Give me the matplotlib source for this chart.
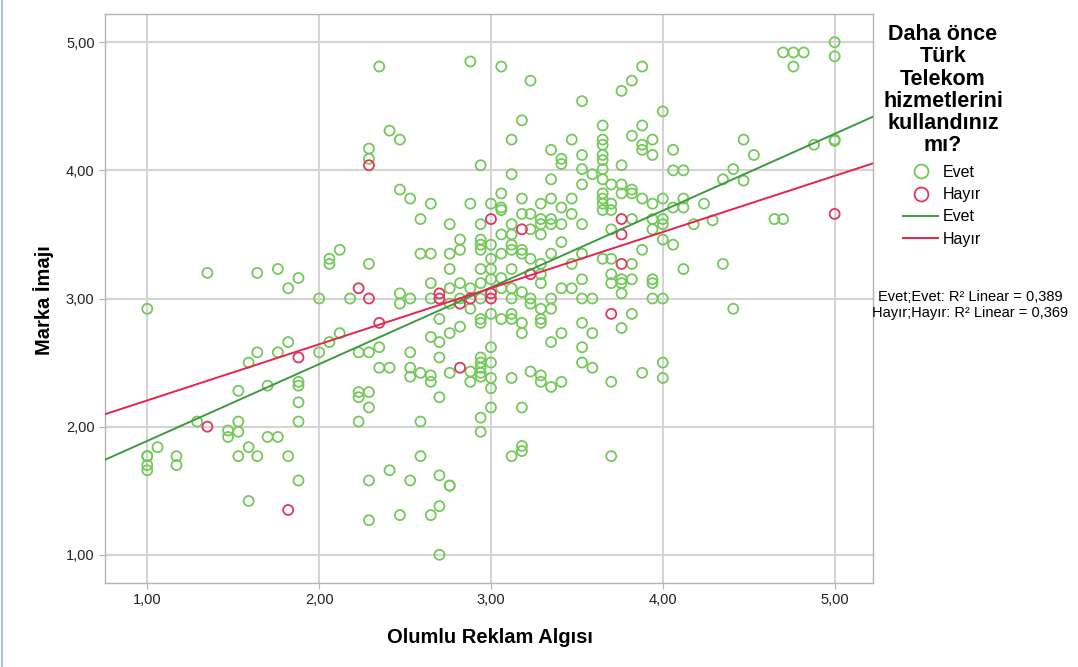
import matplotlib.pyplot as plt
import numpy as np
from matplotlib.ticker import FuncFormatter
from matplotlib.lines import Line2D

plt.rcParams['font.family'] = ['Liberation Sans', 'DejaVu Sans']

# Olumlu Reklam Algısı değerleri (x) ve her değerdeki Marka İmajı puanları (y)
evet_levels = [1.00, 1.06, 1.17, 1.29, 1.35, 1.47, 1.53, 1.59, 1.64, 1.70,
               1.76, 1.82, 1.88, 2.00, 2.06, 2.12, 2.18, 2.23, 2.29, 2.35,
               2.41, 2.47, 2.53, 2.59, 2.65, 2.70, 2.76, 2.82, 2.88, 2.94,
               3.00, 3.06, 3.12, 3.18, 3.23, 3.29, 3.35, 3.41, 3.47, 3.53,
               3.59, 3.65, 3.70, 3.76, 3.82, 3.88, 3.94, 4.00, 4.06, 4.12,
               4.18, 4.24, 4.29, 4.35, 4.41, 4.47, 4.53, 4.65, 4.70, 4.76,
               4.82, 4.88, 5.00]
evet_values = [
    [2.92, 1.77, 1.77, 1.70, 1.66],
    [1.84],
    [1.77, 1.70],
    [2.04],
    [3.20],
    [1.97, 1.92],
    [2.28, 2.04, 1.96, 1.77],
    [2.50, 1.84, 1.42],
    [3.20, 2.58, 1.77],
    [2.32, 1.92],
    [3.23, 2.58, 1.92],
    [3.08, 2.66, 1.77],
    [3.16, 2.35, 2.32, 2.19, 2.04, 1.58],
    [3.00, 2.58],
    [3.31, 3.27, 2.66],
    [3.38, 2.73],
    [3.00],
    [2.58, 2.27, 2.23, 2.04],
    [4.17, 4.09, 3.27, 2.58, 2.27, 2.15, 1.58, 1.27],
    [4.81, 2.62, 2.46],
    [4.31, 2.46, 1.66],
    [4.24, 3.85, 3.04, 2.96, 1.31],
    [3.78, 3.00, 2.58, 2.46, 2.39, 1.58],
    [3.62, 3.35, 2.42, 2.04, 1.77],
    [3.74, 3.35, 3.12, 3.00, 2.70, 2.40, 2.35, 1.31],
    [2.84, 2.66, 2.54, 2.23, 1.62, 1.38, 1.00],
    [3.58, 3.35, 3.23, 3.08, 2.96, 2.73, 2.42, 1.54, 1.54],
    [3.46, 3.38, 3.12, 3.00, 2.78],
    [4.85, 3.74, 3.08, 2.92, 2.43, 2.35],
    [4.04, 3.58, 3.46, 3.42, 3.38, 3.23, 3.12, 3.00, 2.84, 2.81, 2.54, 2.50,
     2.46, 2.42, 2.39, 2.07, 1.96],
    [3.74, 3.42, 3.31, 3.23, 3.15, 2.88, 2.62, 2.50, 2.38, 2.30, 2.15],
    [4.81, 3.82, 3.71, 3.69, 3.50, 3.35, 3.16, 3.08, 2.84],
    [4.24, 3.97, 3.58, 3.50, 3.42, 3.38, 3.23, 3.08, 3.00, 2.88, 2.84, 2.38, 1.77],
    [4.39, 3.78, 3.66, 3.38, 3.35, 3.05, 2.81, 2.73, 2.15, 1.85, 1.81],
    [4.70, 3.66, 3.54, 3.31, 3.00, 2.96, 2.43],
    [3.74, 3.62, 3.58, 3.50, 3.27, 3.19, 3.12, 2.92, 2.84, 2.81, 2.40, 2.35],
    [4.16, 3.93, 3.78, 3.62, 3.58, 3.35, 3.00, 2.92, 2.66, 2.31],
    [4.09, 4.05, 3.71, 3.58, 3.44, 3.08, 2.73, 2.35],
    [4.24, 3.78, 3.66, 3.27, 3.08],
    [4.54, 4.12, 4.01, 3.89, 3.58, 3.35, 3.15, 3.00, 2.81, 2.62, 2.50],
    [3.97, 3.00, 2.73, 2.46],
    [4.35, 4.24, 4.20, 4.12, 4.08, 4.01, 3.93, 3.82, 3.78, 3.74, 3.69, 3.31],
    [3.89, 3.74, 3.69, 3.54, 3.31, 3.19, 3.12, 2.35, 1.77],
    [4.62, 4.04, 3.89, 3.82, 3.15, 3.12, 3.04, 2.77],
    [4.70, 4.27, 3.85, 3.82, 3.62, 3.27, 3.15, 2.88],
    [4.81, 4.35, 4.20, 4.16, 3.78, 3.38, 2.42],
    [4.24, 4.12, 3.74, 3.62, 3.54, 3.15, 3.12, 3.00],
    [4.46, 3.78, 3.62, 3.58, 3.46, 3.00, 2.50, 2.38],
    [4.16, 4.00, 3.71, 3.42],
    [4.00, 3.78, 3.71, 3.23],
    [3.58],
    [3.74],
    [3.61],
    [3.93, 3.27],
    [4.01, 2.92],
    [4.24, 3.92],
    [4.12],
    [3.62],
    [4.92, 3.62],
    [4.92, 4.81],
    [4.92],
    [4.20],
    [5.00, 4.89, 4.24, 4.23],
]

hayir_levels = [1.35, 1.82, 1.88, 2.23, 2.29, 2.35, 2.70, 2.82, 2.88, 3.00,
                3.18, 3.23, 3.70, 3.76, 5.00]
hayir_values = [
    [2.00],
    [1.35],
    [2.54],
    [3.08],
    [4.04, 3.00],
    [2.81],
    [3.04, 3.00],
    [2.96, 2.46],
    [3.00],
    [3.62, 3.04, 3.00],
    [3.54],
    [3.19],
    [2.88],
    [3.62, 3.50, 3.27],
    [3.66],
]

# doğrusal uyum çizgileri (sabit, eğim) ve R2
evet_fit = (1.29, 0.599)
hayir_fit = (1.767, 0.438)
r2_evet = 0.389
r2_hayir = 0.369

ticks = [1.00, 2.00, 3.00, 4.00, 5.00]

evet_x = np.repeat(evet_levels, [len(v) for v in evet_values])
evet_y = np.concatenate(evet_values)
hayir_x = np.repeat(hayir_levels, [len(v) for v in hayir_values])
hayir_y = np.concatenate(hayir_values)

green = '#74c95a'
red = '#e2365e'
green_line = '#3f9a3f'
red_line = '#e8234d'

fig = plt.figure(figsize=(10.78, 6.67), dpi=100)
fig.patch.set_facecolor('white')
ax = fig.add_axes([0.0974, 0.1259, 0.7124, 0.8531])

ax.set_xlim(0.754, 5.223)
ax.set_ylim(0.78, 5.22)
ax.set_xticks(ticks)
ax.set_yticks(ticks)
fmt = FuncFormatter(lambda v, p: f"{v:.2f}".replace('.', ','))
ax.xaxis.set_major_formatter(fmt)
ax.yaxis.set_major_formatter(fmt)

ax.grid(True, color='#d4d4d4', linewidth=1.5)
ax.set_axisbelow(True)
for s in ax.spines.values():
    s.set_color('#b4b4b4')
    s.set_linewidth(1.0)
ax.tick_params(colors='#b4b4b4', labelcolor='#222222', labelsize=10.5, length=4)

ax.scatter(evet_x, evet_y, s=52, facecolors='none', edgecolors=green, linewidths=1.3, zorder=2)
ax.scatter(hayir_x, hayir_y, s=52, facecolors='none', edgecolors=red, linewidths=1.3, zorder=3)

xs = np.array(ax.get_xlim())
ax.plot(xs, evet_fit[0] + evet_fit[1] * xs, color=green_line, lw=1.4, zorder=4)
ax.plot(xs, hayir_fit[0] + hayir_fit[1] * xs, color=red_line, lw=1.4, zorder=4)

ax.set_xlabel("Olumlu Reklam Algısı", fontsize=14.5, fontweight='bold')
ax.set_ylabel("Marka İmajı", fontsize=14.5, fontweight='bold')
ax.xaxis.set_label_coords(0.501, -0.095)
ax.xaxis.label.set_va('center')
ax.yaxis.set_label_coords(-0.08, 0.497)
ax.yaxis.label.set_va('center')

# lejant
fig.text(943 / 1078, 1 - 24 / 667, "Daha önce\nTürk\nTelekom\nhizmetlerini\nkullandınız\nmı?",
         ha='center', va='top', ma='center', fontsize=15.5, fontweight='bold', linespacing=1.08)

handles = [
    Line2D([], [], marker='o', ls='none', markerfacecolor='none', markeredgecolor=green,
           markersize=10, markeredgewidth=1.3),
    Line2D([], [], marker='o', ls='none', markerfacecolor='none', markeredgecolor=red,
           markersize=10, markeredgewidth=1.3),
    Line2D([], [], color=green_line, lw=1.4),
    Line2D([], [], color=red_line, lw=1.4),
]
fig.legend(handles, ['Evet', 'Hayır', 'Evet', 'Hayır'], loc='upper left',
           bbox_to_anchor=(903 / 1078, 1 - 165 / 667), frameon=False, fontsize=11.5,
           handlelength=2.2, handletextpad=0.3, labelspacing=0.45,
           borderpad=0, borderaxespad=0)

fig.text(970 / 1078, 1 - 297 / 667,
         f"Evet;Evet: R² Linear = {r2_evet:.3f}".replace('.', ','),
         ha='center', va='center', fontsize=10.5)
fig.text(970 / 1078, 1 - 313 / 667,
         f"Hayır;Hayır: R² Linear = {r2_hayir:.3f}".replace('.', ','),
         ha='center', va='center', fontsize=10.5)

# görüntüleyici çerçevesinin sol kenarı
fig.add_artist(Line2D([0.0015, 0.0015], [0, 1], transform=fig.transFigure,
                      color='#a9c4e6', lw=1.5))

fig.savefig('out.png', dpi=100)
